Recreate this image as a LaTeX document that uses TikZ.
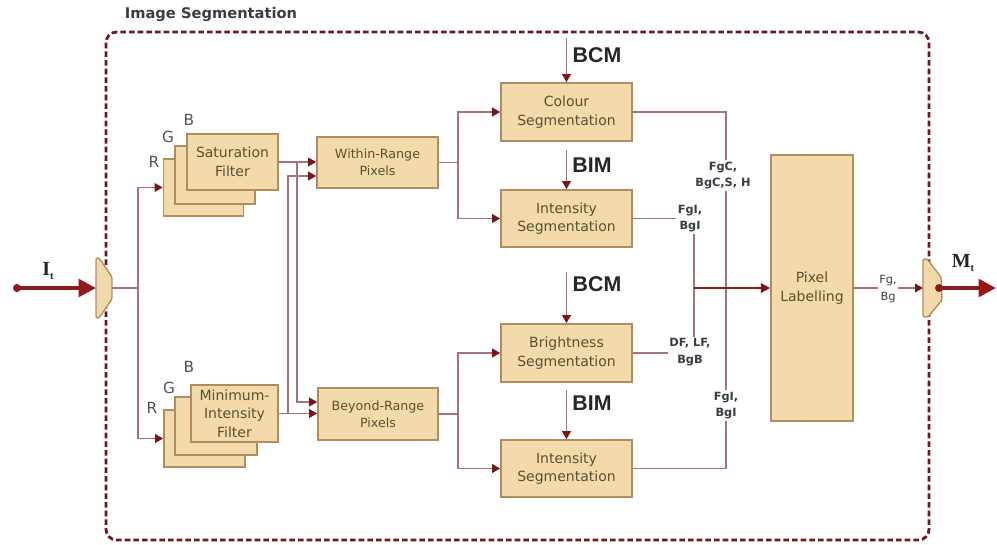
\documentclass[tikz,border=0pt]{standalone}
\usepackage{fontspec}
\setmainfont{DejaVu Sans}
\newfontfamily\arialfont{Liberation Sans}
\newfontfamily\seriffont{Liberation Serif}
\usetikzlibrary{arrows.meta,calc}

\definecolor{boxfill}{RGB}{242,218,170}
\definecolor{boxline}{RGB}{178,140,95}
\definecolor{boxtext}{RGB}{90,80,50}
\definecolor{wire}{RGB}{165,115,125}
\definecolor{tipred}{RGB}{125,20,25}
\definecolor{framered}{RGB}{115,20,30}
\definecolor{mainred}{RGB}{145,25,25}
\definecolor{labelgray}{RGB}{60,60,70}

\tikzset{
  sz/.style 2 args={minimum width=#1*0.75pt, minimum height=#2*0.75pt},
  blk/.style={draw=boxline, fill=boxfill, line width=1.2pt, text=boxtext,
    align=center, inner sep=0pt, font=\fontsize{10.5}{14}\selectfont},
  smallblk/.style={blk, font=\fontsize{9.5}{13}\selectfont},
  wirel/.style={draw=wire, line width=1.1pt},
  feed/.style={wirel, -{Triangle[length=6pt,width=6.5pt,color=tipred]}},
  feedthick/.style={draw=mainred, line width=1.6pt, -{Triangle[length=7pt,width=7pt,color=tipred]}},
  mainarrow/.style={draw=mainred, line width=3pt, -{Triangle[length=13pt,width=13pt]}},
  lbl/.style={font=\bfseries\fontsize{8.5}{12.5}\selectfont, text=labelgray,
    fill=white, align=center, inner sep=1pt},
  ctl/.style={font=\arialfont\bfseries\fontsize{16}{18}\selectfont, text=black!85},
  chan/.style={font=\fontsize{11.5}{13}\selectfont, text=labelgray!90},
  sig/.style={font=\seriffont\bfseries\fontsize{15}{17}\selectfont, text=black!85},
  mux/.style={draw=boxline, fill=boxfill, line width=1pt, rounded corners=1pt},
  dotnode/.style={circle, fill=mainred, inner sep=0pt, minimum size=6pt}
}

\begin{document}
\begin{tikzpicture}[x=0.75pt, y=-0.75pt]
\useasboundingbox (0,0) rectangle (997,544);

% enclosing frame
\draw[framered, line width=2.1pt, dash pattern=on 4.2pt off 2.3pt, rounded corners=8pt]
  (106,32) rectangle (929,540);
\node[font=\bfseries\fontsize{11}{13}\selectfont, text=labelgray] (title) at (211,15) {Image Segmentation};

% input splitter
\draw[mux] (96,258) -- (99,258) -- (112,277) -- (112,299) -- (99,318) -- (96,318) -- cycle;
\coordinate (inMux) at (96,288);
\coordinate (inOut) at (112,288);
\node[dotnode] (inDot) at (17,288) {};
\draw[mainarrow] (inDot.center) -- (inMux);
\node[sig] (inLbl) at (48,271) {I\raisebox{-0.35ex}{\fontsize{8}{8}\selectfont t}};

% colour-channel filter stacks
\node[blk, sz={80}{57}] (satB) at (203.5,187.5) {};
\node[blk, sz={80}{58}] (satM) at (215,175) {};
\node[blk, sz={91}{56}] (satF) at (232.5,162) {Saturation\\Filter};
\node[chan] (satBl) at (189,120) {B};
\node[chan] (satGl) at (168,137) {G};
\node[chan] (satRl) at (154,162) {R};

\node[blk, sz={81}{57}] (minB) at (204.5,438.5) {};
\node[blk, sz={82}{58}] (minM) at (216,426) {};
\node[blk, sz={87}{57}] (minF) at (234.5,413.5) {Minimum-\\Intensity\\Filter};
\node[chan] (minBl) at (189,367) {B};
\node[chan] (minGl) at (169,388) {G};
\node[chan] (minRl) at (152,408) {R};

% pixel classes
\node[smallblk, sz={121}{51}] (within) at (377.5,162.5) {Within-Range\\Pixels};
\node[smallblk, sz={120}{52}] (beyond) at (378,414) {Beyond-Range\\Pixels};

% segmentation stages
\node[blk, sz={131}{58}] (colour) at (566.5,112) {Colour\\Segmentation};
\node[blk, sz={131}{57}] (intA) at (566.5,218.5) {Intensity\\Segmentation};
\node[blk, sz={131}{58}] (bright) at (566.5,353) {Brightness\\Segmentation};
\node[blk, sz={131}{57}] (intB) at (566.5,468.5) {Intensity\\Segmentation};

\node[blk, sz={82}{266}] (pixel) at (812,288) {Pixel\\Labelling};

% splitter to filters
\coordinate (jIn) at (138,288);
\draw[wirel] (inOut) -- (jIn);
\draw[feed] (jIn) |- (satB.west);
\draw[feed] (jIn) |- (minB.west);

% filters to pixel classes
\coordinate (jSat) at (297,162);
\coordinate (jMin) at (288,413.5);
\coordinate (bTop) at ($(beyond.west)+(0,-12)$);
\coordinate (wBot) at ($(within.west)+(0,13.5)$);
\draw[feed] (satF.east) -- (satF.east -| within.west);
\draw[feed] (minF.east) -- (minF.east -| beyond.west);
\draw[feed] (jSat) |- (bTop);
\draw[feed] (jMin) |- (wBot);

% pixel classes to segmentation stages
\coordinate (jW) at ($(within.east)+(19,0)$);
\coordinate (jB) at ($(beyond.east)+(19,0)$);
\draw[wirel] (within.east) -- (jW);
\draw[feed] (jW) |- (colour.west);
\draw[feed] (jW) |- (intA.west);
\draw[wirel] (beyond.east) -- (jB);
\draw[feed] (jB) |- (bright.west);
\draw[feed] (jB) |- (intB.west);

% models feeding the stages
\coordinate (bcmA) at (566.5,38);
\coordinate (bimA) at (566.5,150);
\coordinate (bcmB) at (566.5,272);
\coordinate (bimB) at (566.5,390);
\draw[feed] (bcmA) -- (colour.north);
\draw[feed] (bimA) -- (intA.north);
\draw[feed] (bcmB) -- (bright.north);
\draw[feed] (bimB) -- (intB.north);
\node[ctl] (bcmAl) at (597,55) {BCM};
\node[ctl] (bimAl) at (592,165) {BIM};
\node[ctl] (bcmBl) at (597,284) {BCM};
\node[ctl] (bimBl) at (592,403) {BIM};

% stage outputs merged into the labelling block
\coordinate (xM) at (694,0);
\coordinate (xR) at (726,0);
\draw[wirel] (colour.east) -- (colour.east -| xR) -- (intB.east -| xR) -- (intB.east);
\draw[wirel] (intA.east) -- (intA.east -| xM) -- (bright.east -| xM) -- (bright.east);
\coordinate (jPix) at (pixel.west -| xM);
\draw[feedthick] (jPix) -- (pixel.west);

\node[lbl] (lblC) at (723,175.5) {FgC,\\BgC,S, H};
\node[lbl] (lblIA) at (690,218.5) {FgI,\\BgI};
\node[lbl] (lblBr) at (690,352) {DF, LF,\\BgB};
\node[lbl] (lblIB) at (726,405.5) {FgI,\\BgI};

% output merger
\draw[mux] (923,259) -- (927,259) -- (941,277) -- (942,300) -- (928,317) -- (923,317) -- cycle;
\coordinate (outMux) at (923,288);
\draw[feed] (pixel.east) -- (outMux);
\node[lbl, font=\fontsize{8.5}{12.5}\selectfont] (lblOut) at (888,289) {Fg,\\Bg};
\node[dotnode] (outDot) at (939,288) {};
\coordinate (outEnd) at (996,288);
\draw[mainarrow] (outDot.center) -- (outEnd);
\node[sig] (outLbl) at (963,263) {M\raisebox{-0.35ex}{\fontsize{8}{8}\selectfont t}};
\end{tikzpicture}
\end{document}
